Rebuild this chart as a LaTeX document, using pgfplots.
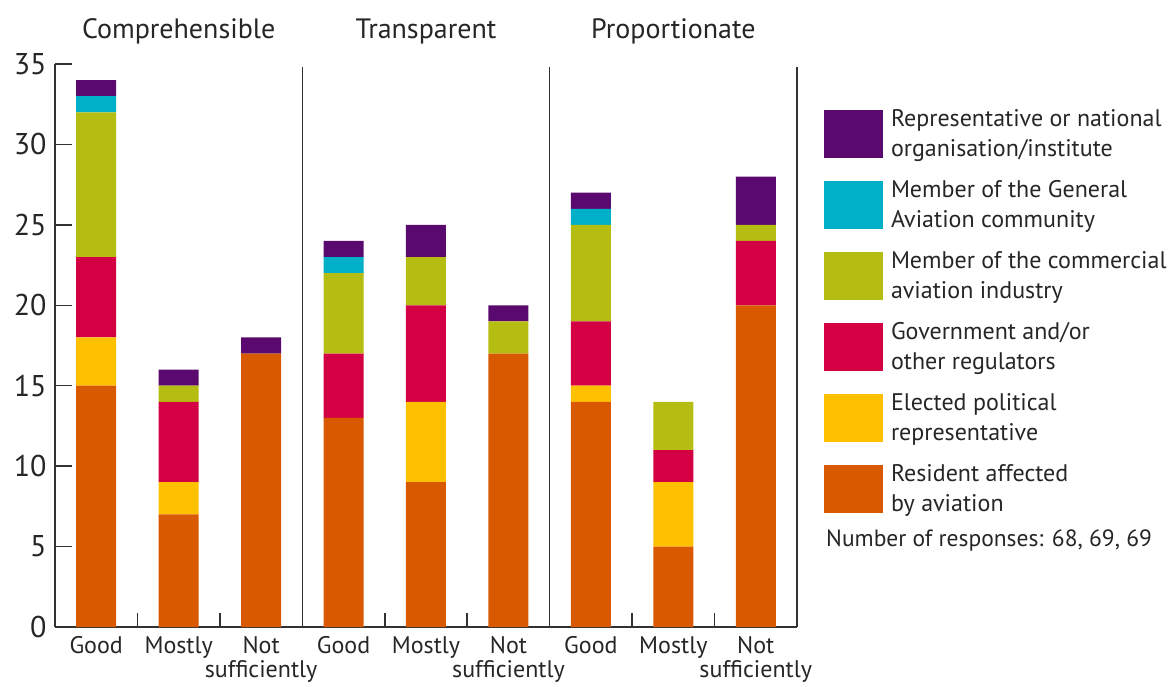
\documentclass[border=0pt]{standalone}
\usepackage{pgfplots}
\pgfplotsset{compat=1.18}
\usepackage{pgfplotstable}
\usepackage{fontspec}
\setmainfont{PT Sans}

\definecolor{cRes}{RGB}{217,89,0}
\definecolor{cEle}{RGB}{255,192,0}
\definecolor{cGov}{RGB}{212,0,68}
\definecolor{cCom}{RGB}{181,189,18}
\definecolor{cGA}{RGB}{0,175,200}
\definecolor{cRep}{RGB}{90,10,110}
\definecolor{axgray}{RGB}{50,50,50}

% responses per group (bottom to top of each stack)
\pgfplotstableread{
x res ele gov com ga rep
0 15 3 5 9 1 1
1 7  2 5 1 0 1
2 17 0 0 0 0 1
3 13 0 4 5 1 1
4 9  5 6 3 0 2
5 17 0 0 2 0 1
6 14 1 4 6 1 1
7 5  4 2 3 0 0
8 20 0 4 1 0 3
}\responses

\begin{document}
\begin{tikzpicture}
\path[use as bounding box] (0,0) rectangle (1175pt,686pt);
\begin{axis}[
  at={(55pt,59pt)}, anchor=south west,
  scale only axis, width=742pt, height=563pt,
  xmin=-0.5, xmax=8.5, ymin=0, ymax=35,
  clip=false,
  ybar stacked, bar width=40pt,
  axis x line*=bottom, axis y line*=left,
  axis line style={-, line width=1.5pt, axgray},
  tick align=inside,
  xtick={0,...,8},
  xticklabels={Good,Mostly,{Not\\sufficiently},Good,Mostly,{Not\\sufficiently},Good,Mostly,{Not\\sufficiently}},
  x tick style={draw=none},
  ytick={0,5,...,35},
  y tick style={line width=1.5pt, axgray},
  major tick length=17pt,
  /pgf/number format/assume math mode=true,
  yticklabel style={font=\fontsize{30}{32}\selectfont, text=black!85, xshift=-5pt},
  xticklabel style={font=\fontsize{24}{24}\selectfont, align=center, text=black!85,
    inner sep=0pt, yshift=-9pt},
  reverse legend,
  legend cell align=left,
  legend style={at={(1.0364,0.9387)}, anchor=north west, draw=none, fill=none,
    inner sep=0pt, outer sep=0pt, row sep=0pt,
    font=\fontsize{24}{30}\selectfont, text=black!85,
    nodes={inner sep=0pt, align=left},
    /tikz/every odd column/.style={column sep=8pt}},
  legend image code/.code={%
    \path[draw=none, fill=none] (0pt,-35.5pt) rectangle (59pt,35.5pt);
    \fill[#1,draw=none] (0pt,-24pt) rectangle (59pt,24pt);},
]
\addplot[fill=cRes, draw=none] table[x=x,y=res]{\responses};
\addlegendentry{Resident affected\\by aviation}
\addplot[fill=cEle, draw=none] table[x=x,y=ele]{\responses};
\addlegendentry{Elected political\\representative}
\addplot[fill=cGov, draw=none] table[x=x,y=gov]{\responses};
\addlegendentry{Government and/or\\other regulators}
\addplot[fill=cCom, draw=none] table[x=x,y=com]{\responses};
\addlegendentry{Member of the commercial\\aviation industry}
\addplot[fill=cGA, draw=none] table[x=x,y=ga]{\responses};
\addlegendentry{Member of the General\\Aviation community}
\addplot[fill=cRep, draw=none] table[x=x,y=rep]{\responses};
\addlegendentry{Representative or national\\organisation/institute}

% group separators and right border
\draw[line width=1.5pt, axgray] (axis cs:2.5,0) -- (axis cs:2.5,34.8);
\draw[line width=1.5pt, axgray] (axis cs:5.5,0) -- (axis cs:5.5,34.8);
\draw[line width=1.5pt, axgray] (axis cs:8.5,0) -- (axis cs:8.5,34.8);

% short ticks between the answers of a group
\pgfplotsinvokeforeach{0.5,1.5,3.5,4.5,6.5,7.5}{
  \draw[line width=1.5pt, axgray] (axis cs:#1,0) -- ++(0pt,14pt);
}

% group titles
\node[font=\fontsize{28}{30}\selectfont, text=black!85] at (axis cs:1,37.0) {Comprehensible};
\node[font=\fontsize{28}{30}\selectfont, text=black!85] at (axis cs:4,37.0) {Transparent};
\node[font=\fontsize{28}{30}\selectfont, text=black!85] at (axis cs:7,37.0) {Proportionate};

\node[anchor=west, inner sep=0pt, font=\fontsize{23.5}{25}\selectfont, text=black!85]
  at (rel axis cs:1.0391,0.1545) {Number of responses: 68, 69, 69};
\end{axis}
\end{tikzpicture}
\end{document}
